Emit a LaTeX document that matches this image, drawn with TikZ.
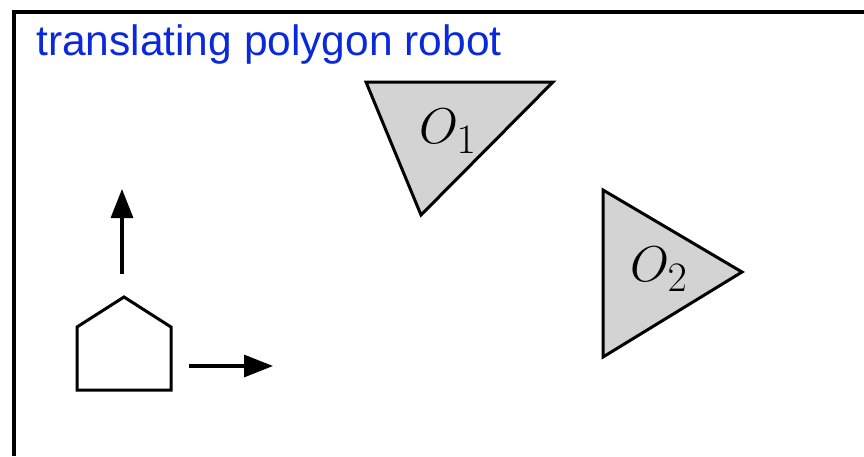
\documentclass[tikz,border=0pt]{standalone}
\usepackage{fontspec}
\setsansfont{Liberation Sans}
\usetikzlibrary{arrows.meta,positioning}
\definecolor{titleblue}{RGB}{10,40,220}
\definecolor{obstgray}{RGB}{211,211,211}
\begin{document}
\begin{tikzpicture}[x=1pt,y=-1pt,
	obstacle/.style={draw,fill=obstgray,line width=3pt,line join=miter},
	robotbox/.style={draw,line width=3pt,line join=miter},
	motion/.style={-{Triangle[length=29pt,width=22pt]},line width=3.2pt},
	olabel/.style={font=\Huge,scale=2.02}]
		
		\useasboundingbox (0,0) rectangle (864,456);
		\fill[white] (0,0) rectangle (864,456);
		
		\draw[line width=3.2pt]
		(864,12)--(14,12)--(14,456);
		
		\node[anchor=base west,inner sep=0pt,text=titleblue,
		font=\sffamily\fontsize{42.5}{48}\selectfont] (title)
		at (36,55)
		{translating polygon robot};
		
		\draw[obstacle]
		(366,82)--(553,82)--(421,215)--cycle;
		\node[olabel] (O1) at (448,131)
		{$O_1$};
		
		\draw[obstacle]
		(603,190)--(742,272)--(603,357)--cycle;
		\node[olabel] (O2) at (659,269)
		{$O_2$};
		
		\draw[robotbox]
		(77,390)--(171,390)--(171,327)--(124,297)--(77,327)--cycle;
		
		\coordinate (upstart) at (122,274);
		\coordinate (uptip) at (122,189);
		\coordinate (rightstart) at (189,366);
		\coordinate (righttip) at (273,366);
		
		\draw[motion]
		(upstart)--(uptip);
		
		\draw[motion]
		(rightstart)--(righttip);
		
	\end{tikzpicture}
\end{document}
